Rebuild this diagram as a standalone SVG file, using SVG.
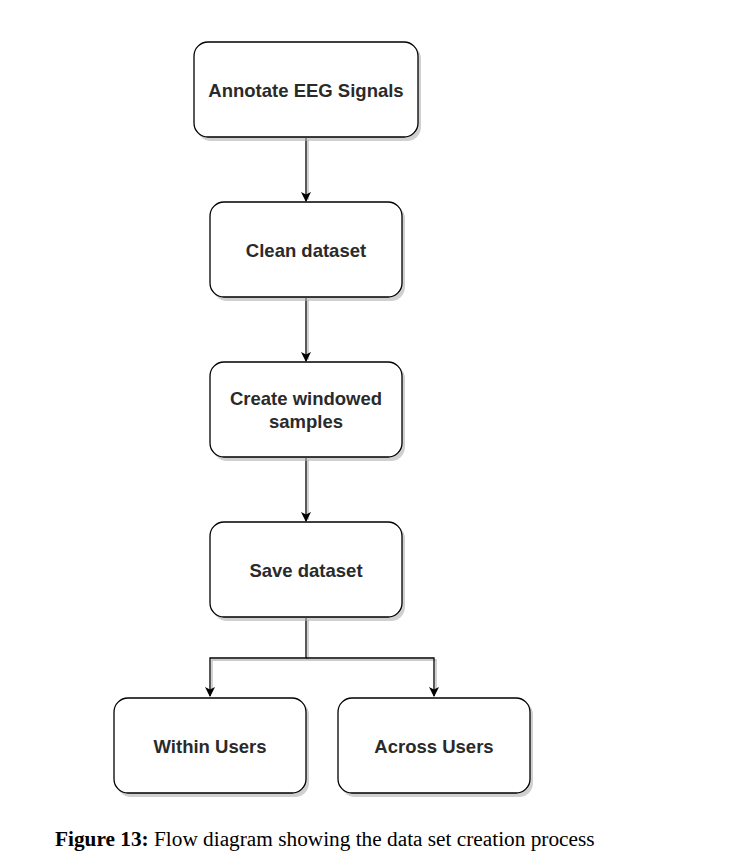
<svg xmlns="http://www.w3.org/2000/svg" width="748" height="866" viewBox="0 0 748 866">
<style>
.box{fill:#fff;stroke:#000;stroke-width:1.3}
.sh{fill:#b0b0b0;opacity:0.6}
.lbl{font-family:"Liberation Sans",Arial,sans-serif;font-weight:bold;font-size:18.5px;fill:#2a2a2a;text-anchor:middle}
.cn{fill:none;stroke:#000;stroke-width:1.3}
.cs{fill:none;stroke:#bbb;stroke-width:1.3}
</style>
<defs>
<marker id="ar" markerWidth="10" markerHeight="10" refX="9" refY="5" orient="auto" markerUnits="userSpaceOnUse">
<path d="M0,0 L10,5 L0,10 L2.5,5 Z" fill="#000"/>
</marker>
</defs>
<rect width="748" height="866" fill="#fff"/>
<g id="connectors">
<path class="cs" d="M308,140 V200"/>
<path class="cn" d="M306,138 V201" marker-end="url(#ar)"/>
<path class="cs" d="M308,300 V360"/>
<path class="cn" d="M306,298 V361" marker-end="url(#ar)"/>
<path class="cs" d="M308,460 V520"/>
<path class="cn" d="M306,458 V521" marker-end="url(#ar)"/>
<path class="cs" d="M308,620 V660 H212 V690 M308,660 H436 V690"/>
<path class="cn" d="M306,618 V658 H210 V696" marker-end="url(#ar)"/>
<path class="cn" d="M306,658 H434 V696" marker-end="url(#ar)"/>
</g>
<g id="n1">
<rect class="sh" x="197" y="45" width="224" height="96" rx="14"/>
<rect class="box" x="194" y="42" width="224" height="95" rx="14"/>
<text class="lbl" x="306" y="97">Annotate EEG Signals</text>
</g>
<g id="n2">
<rect class="sh" x="213" y="205" width="192" height="96" rx="14"/>
<rect class="box" x="210" y="202" width="192" height="95" rx="14"/>
<text class="lbl" x="306" y="257">Clean dataset</text>
</g>
<g id="n3">
<rect class="sh" x="213" y="365" width="192" height="96" rx="14"/>
<rect class="box" x="210" y="362" width="192" height="95" rx="14"/>
<text class="lbl" x="306" y="405">Create windowed</text>
<text class="lbl" x="306" y="428">samples</text>
</g>
<g id="n4">
<rect class="sh" x="213" y="525" width="192" height="96" rx="14"/>
<rect class="box" x="210" y="522" width="192" height="95" rx="14"/>
<text class="lbl" x="306" y="577">Save dataset</text>
</g>
<g id="n5">
<rect class="sh" x="117" y="701" width="192" height="96" rx="14"/>
<rect class="box" x="114" y="698" width="192" height="95" rx="14"/>
<text class="lbl" x="210" y="753">Within Users</text>
</g>
<g id="n6">
<rect class="sh" x="341" y="701" width="192" height="96" rx="14"/>
<rect class="box" x="338" y="698" width="192" height="95" rx="14"/>
<text class="lbl" x="434" y="753">Across Users</text>
</g>
<text x="55" y="846" font-family="Liberation Serif,'Times New Roman',serif" font-size="21.3px" fill="#000"><tspan font-weight="bold">Figure 13:</tspan> Flow diagram showing the data set creation process</text>
</svg>
